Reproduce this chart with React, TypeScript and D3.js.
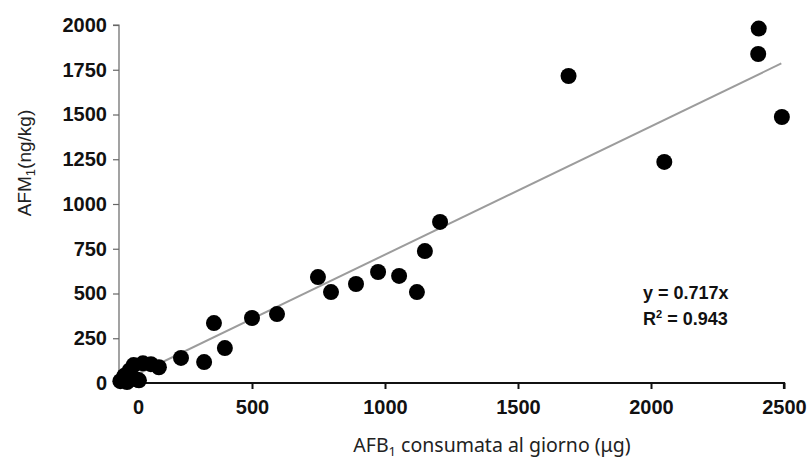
import React, { useEffect, useRef } from "react";
import * as d3 from "d3";

const afb1: number[] = [5, 20, 30, 40, 55, 65, 75, 90, 120, 150, 233, 320, 357, 398, 500, 594, 748, 797, 891, 974, 1053, 1120, 1150, 1207, 1690, 2050, 2405, 2403, 2492];
const afm1: number[] = [10, 40, 5, 70, 100, 20, 15, 110, 105, 88, 140, 117, 335, 195, 363, 385, 592, 508, 553, 620, 598, 508, 737, 900, 1715, 1235, 1980, 1838, 1486];
const xTicks: number[] = [0, 500, 1000, 1500, 2000, 2500];
const yTicks: number[] = [0, 250, 500, 750, 1000, 1250, 1500, 1750, 2000];
const slope = 0.717;
const r2 = 0.943;
const fitRange: number[] = [0, 2490];

export default function App() {
  const ref = useRef<SVGSVGElement | null>(null);
  useEffect(() => {
    const svg = d3.select(ref.current);
    svg.selectAll("*").remove();
    const x = d3.scaleLinear().domain([0, 2500]).range([119, 784]);
    const y = d3.scaleLinear().domain([0, 2000]).range([383, 25]);
    const tickFont = "'Liberation Sans', Arial, sans-serif";

    // y axis
    const gy = svg.append("g").attr("transform", `translate(${x(0)},0)`)
      .call(d3.axisLeft(y).tickValues(yTicks).tickSize(6).tickPadding(6).tickFormat(d3.format("d")));
    gy.select(".domain").attr("stroke", "#666").attr("stroke-width", 1.2).attr("d", `M-6,${y(2000)}H0V${y(0)}`);
    gy.selectAll(".tick line").attr("stroke", "#666").attr("stroke-width", 1.2);
    gy.selectAll(".tick text").attr("font-family", tickFont).attr("font-weight", "bold").attr("font-size", 20).attr("fill", "#111");

    // regression line
    const line = d3.line<number>().x(d => x(d)).y(d => y(d * slope));
    svg.append("path").attr("d", line(fitRange) as string).attr("stroke", "#9c9c9c").attr("stroke-width", 2).attr("fill", "none");

    // x axis
    const gx = svg.append("g").attr("transform", `translate(0,${y(0)})`)
      .call(d3.axisBottom(x).tickValues(xTicks).tickSize(6).tickPadding(11).tickFormat(d3.format("d")));
    gx.select(".domain").attr("stroke", "#111").attr("stroke-width", 2.2).attr("d", `M${x(0)},0H${x(2500)}V6`);
    gx.selectAll(".tick line").attr("stroke", "#111").attr("stroke-width", 2);
    gx.selectAll(".tick").filter((d: any) => d === 0).select("line").remove();
    gx.selectAll(".tick").filter((d: any) => d === 0).select("text").attr("x", 19);
    gx.selectAll(".tick text").attr("font-family", tickFont).attr("font-weight", "bold").attr("font-size", 20).attr("fill", "#111");

    // points
    svg.append("g").selectAll("circle").data(afb1.map((v, i) => [v, afm1[i]]))
      .join("circle").attr("cx", d => x(d[0])).attr("cy", d => y(d[1])).attr("r", 8).attr("fill", "#000");

    // annotation
    const ann = svg.append("g").attr("font-family", tickFont).attr("font-weight", "bold").attr("font-size", 18).attr("fill", "#111");
    ann.append("text").attr("x", 643).attr("y", 299).text(`y = ${slope}x`);
    const t2 = ann.append("text").attr("x", 643).attr("y", 325);
    t2.append("tspan").text("R");
    t2.append("tspan").attr("font-size", 11).attr("dy", -7).text("2");
    t2.append("tspan").attr("dy", 7).text(` = ${r2}`);

    // axis titles
    const xt = svg.append("text").attr("x", 492).attr("y", 452).attr("text-anchor", "middle")
      .attr("font-family", "'Noto Sans', sans-serif").attr("font-size", 19.5).attr("fill", "#222");
    xt.append("tspan").text("AFB");
    xt.append("tspan").attr("font-size", 13).attr("dy", 4).text("1");
    xt.append("tspan").attr("dy", -4).text(" consumata al giorno (μg)");

    const yt = svg.append("text").attr("transform", `translate(31,163) rotate(-90)`).attr("text-anchor", "middle")
      .attr("font-family", tickFont).attr("font-size", 19).attr("fill", "#222");
    yt.append("tspan").text("AFM");
    yt.append("tspan").attr("font-size", 13).attr("dy", 4).text("1");
    yt.append("tspan").attr("dy", -4).text("(ng/kg)");
  }, []);
  return (
    <svg ref={ref} width={808} height={459} style={{ position: "absolute", left: 0, top: 0, background: "#fff" }} />
  );
}
